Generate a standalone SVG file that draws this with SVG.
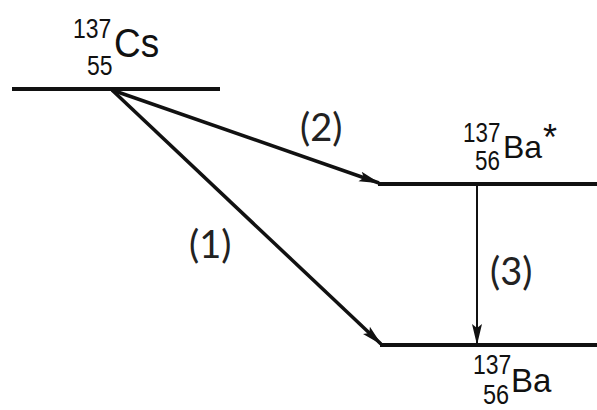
<svg xmlns="http://www.w3.org/2000/svg" width="597" height="410" viewBox="0 0 597 410">
<style>
.lvl{stroke:#111;stroke-width:4;fill:none}
.arr{stroke:#111;stroke-width:3.5;fill:none}
.arr3{stroke:#111;stroke-width:2;fill:none}
.big{font-family:"Liberation Sans",Arial,sans-serif;fill:#111}
.sm{font-family:"Liberation Sans",Arial,sans-serif;font-size:28px;fill:#111}
.lab{font-family:Lato,"Open Sans","Liberation Sans",sans-serif;font-size:38px;fill:#222}
</style>
<defs>
<marker id="ah" markerWidth="22" markerHeight="12" refX="20" refY="6" orient="auto" markerUnits="userSpaceOnUse">
<path d="M0,1 L21,6 L0,11 L4,6 Z" fill="#111"/>
</marker>
</defs>
<rect width="597" height="410" fill="#fff"/>
<g id="cs">
<line class="lvl" x1="12" y1="89" x2="220" y2="89"/>
<text class="sm" transform="translate(73,38) scale(0.82,1)">137</text>
<text class="sm" transform="translate(87,75) scale(0.82,1)">55</text>
<text class="big" font-size="41" transform="translate(114,57) scale(0.9,1)">Cs</text>
</g>
<g id="ba_star">
<line class="lvl" x1="378" y1="184" x2="597" y2="184"/>
<text class="sm" transform="translate(463,142) scale(0.8,1)">137</text>
<text class="sm" transform="translate(475,170) scale(0.8,1)">56</text>
<text class="big" font-size="32" x="503" y="158">Ba</text>
<text class="big" font-size="36" x="543" y="150">*</text>
</g>
<g id="ba">
<line class="lvl" x1="380" y1="345" x2="597" y2="345"/>
<text class="sm" font-size="26" transform="translate(473,374) scale(0.82,1)">137</text>
<text class="sm" font-size="25" transform="translate(483,404) scale(0.84,1)">56</text>
<text class="big" font-size="33" x="511" y="392">Ba</text>
</g>
<g id="connectors">
<line class="arr" x1="112" y1="90" x2="379" y2="183" marker-end="url(#ah)"/>
<line class="arr" x1="112" y1="90" x2="381" y2="344" marker-end="url(#ah)"/>
<line class="arr3" x1="477" y1="185" x2="477" y2="344" marker-end="url(#ah)"/>
<text class="lab" x="300" y="141">(2)</text>
<text class="lab" x="189" y="258">(1)</text>
<text class="lab" x="490" y="285">(3)</text>
</g>
</svg>
